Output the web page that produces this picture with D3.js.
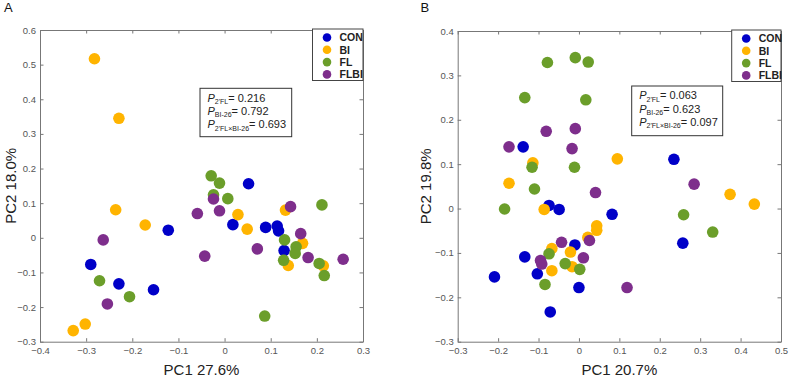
<!DOCTYPE html>
<html>
<head>
<meta charset="utf-8">
<script src="https://cdn.jsdelivr.net/npm/d3@7"></script>
<style>
  body { margin: 0; background: #fff; }
  svg { display: block; font-family: Arial, "Liberation Sans", sans-serif; }
  .axis path, .axis line { stroke: #777; }
  .axis text { fill: #555; font-size: 9.5px; }
</style>
</head>
<body>
<div id="chart"></div>
<script>
// groups and colours
var groups = ["CON", "BI", "FL", "FLBI"];
var colors = ["#0000c8", "#ffb400", "#6b9e2a", "#7e2e8c"];

// panel A  (PC1 27.6%, PC2 18.0%)
var conA  = [[-0.122,0.022],[-0.290,-0.077],[-0.229,-0.133],[-0.154,-0.150],[0.052,0.156],[0.018,0.038],[0.089,0.030],[0.114,0.034],[0.117,0.020],[0.129,-0.037]];
var biA   = [[-0.282,0.517],[-0.229,0.345],[-0.236,0.081],[-0.172,0.037],[-0.302,-0.249],[-0.328,-0.268],[0.029,0.067],[0.049,0.025],[0.132,0.080],[0.169,-0.016],[0.138,-0.080],[0.214,-0.081]];
var flA   = [[-0.271,-0.124],[-0.206,-0.170],[-0.029,0.179],[-0.011,0.158],[-0.024,0.124],[0.007,0.113],[0.211,0.095],[0.130,-0.006],[0.155,-0.026],[0.153,-0.045],[0.128,-0.065],[0.205,-0.074],[0.216,-0.109],[0.087,-0.226]];
var flbiA = [[-0.263,-0.006],[-0.254,-0.191],[-0.059,0.070],[-0.043,-0.053],[-0.024,0.112],[-0.011,0.078],[0.143,0.090],[0.165,0.012],[0.071,-0.032],[0.181,-0.057],[0.257,-0.062]];
var xTicksA = [-0.4,-0.3,-0.2,-0.1,0,0.1,0.2,0.3];
var yTicksA = [-0.3,-0.2,-0.1,0,0.1,0.2,0.3,0.4,0.5,0.6];
var statsA = ["0.216", "0.792", "0.693"];

// panel B  (PC1 20.7%, PC2 19.8%)
var conB  = [[-0.138,0.139],[-0.074,0.007],[-0.049,-0.002],[-0.010,-0.082],[-0.134,-0.109],[-0.103,-0.147],[-0.209,-0.154],[0.000,-0.178],[-0.071,-0.233],[0.235,0.111],[0.082,-0.013],[0.257,-0.078]];
var biB   = [[-0.114,0.103],[-0.173,0.057],[-0.086,-0.002],[0.044,-0.039],[0.044,-0.049],[0.022,-0.065],[-0.067,-0.090],[-0.021,-0.098],[-0.017,-0.131],[-0.067,-0.140],[0.095,0.112],[0.374,0.032],[0.434,0.010]];
var flB   = [[-0.078,0.329],[-0.009,0.340],[0.023,0.330],[-0.134,0.250],[0.017,0.245],[-0.116,0.093],[-0.011,0.093],[-0.110,0.044],[-0.184,-0.001],[-0.074,-0.102],[-0.034,-0.124],[0.002,-0.137],[-0.084,-0.171],[0.259,-0.014],[0.331,-0.053]];
var flbiB = [[-0.081,0.174],[-0.009,0.180],[-0.173,0.139],[-0.017,0.135],[0.041,0.036],[0.026,-0.072],[-0.043,-0.076],[-0.095,-0.117],[-0.092,-0.125],[0.011,-0.111],[0.285,0.055],[0.119,-0.178]];
var xTicksB = [-0.3,-0.2,-0.1,0,0.1,0.2,0.3,0.4,0.5];
var yTicksB = [-0.3,-0.2,-0.1,0,0.1,0.2,0.3,0.4];
var statsB = ["0.063", "0.623", "0.097"];

var statSubs = ["2'FL", "BI-26", "2'FL\u00d7BI-26"];

var W = 789, H = 377;
var svg = d3.select("#chart").append("svg").attr("width", W).attr("height", H);

function fmt(d) { return d === 0 ? "0" : d3.format("")(+d.toFixed(1)); }

function drawPanel(p) {
    var x = d3.scaleLinear().domain(d3.extent(p.xTicks)).range([p.left, p.right]);
    var y = d3.scaleLinear().domain(d3.extent(p.yTicks)).range([p.bottom, p.top]);

    // box axes, ticks pointing inward (matlab style)
    svg.append("g").attr("class", "axis")
        .attr("transform", "translate(0," + p.bottom + ")")
        .call(d3.axisBottom(x).tickValues(p.xTicks).tickFormat(fmt).tickSizeInner(-3.5).tickSizeOuter(0).tickPadding(6));
    svg.append("g").attr("class", "axis")
        .attr("transform", "translate(0," + p.top + ")")
        .call(d3.axisTop(x).tickValues(p.xTicks).tickFormat("").tickSizeInner(-3.5).tickSizeOuter(0));
    svg.append("g").attr("class", "axis")
        .attr("transform", "translate(" + p.left + ",0)")
        .call(d3.axisLeft(y).tickValues(p.yTicks).tickFormat(fmt).tickSizeInner(-3.5).tickSizeOuter(0).tickPadding(4));
    svg.append("g").attr("class", "axis")
        .attr("transform", "translate(" + p.right + ",0)")
        .call(d3.axisRight(y).tickValues(p.yTicks).tickFormat("").tickSizeInner(-3.5).tickSizeOuter(0));

    // points
    p.series.forEach(function (s, i) {
        svg.append("g").selectAll("circle")
            .data(s)
            .enter().append("circle")
            .attr("cx", function (d) { return x(d[0]); })
            .attr("cy", function (d) { return y(d[1]); })
            .attr("r", 5.8)
            .style("fill", colors[i]);
    });

    // axis titles
    svg.append("text")
        .attr("x", (p.left + p.right) / 2).attr("y", 375)
        .attr("text-anchor", "middle")
        .style("font-size", "15px").style("fill", "#222")
        .text(p.xTitle);
    svg.append("text")
        .attr("transform", "translate(" + p.yTitleX + "," + (p.top + p.bottom) / 2 + ") rotate(-90)")
        .attr("text-anchor", "middle")
        .style("font-size", "15px").style("fill", "#222")
        .text(p.yTitle);

    // panel letter
    svg.append("text")
        .attr("x", p.letterX).attr("y", 12)
        .style("font-size", "13px").style("fill", "#111")
        .text(p.letter);

    // legend
    var lg = svg.append("g");
    lg.append("rect")
        .attr("x", p.legX).attr("y", p.top - 1)
        .attr("width", p.right - p.legX).attr("height", 51.5)
        .style("fill", "#fff").style("stroke", "#444").style("stroke-width", 1);
    groups.forEach(function (g, i) {
        var cy = p.top + 7.5 + i * 12.3;
        lg.append("circle").attr("cx", p.legX + 14.5).attr("cy", cy).attr("r", 4.3).style("fill", colors[i]);
        lg.append("text").attr("x", p.legX + 27).attr("y", cy + 3.8)
            .style("font-size", "10.5px").style("font-weight", "bold").style("fill", "#222")
            .text(g);
    });

    // stats box
    var sb = svg.append("g");
    sb.append("rect")
        .attr("x", p.sx).attr("y", p.sy)
        .attr("width", p.sw).attr("height", p.sh)
        .style("fill", "#fff").style("stroke", "#333").style("stroke-width", 1);
    p.stats.forEach(function (v, i) {
        var t = sb.append("text")
            .attr("x", p.sx + 7.5).attr("y", p.sy + 13.2 + i * 13.3)
            .style("font-size", "11px").style("fill", "#222");
        t.append("tspan").style("font-style", "italic").text("P");
        t.append("tspan").attr("dy", 2.5).style("font-size", "7px").text(statSubs[i]);
        t.append("tspan").attr("dy", -2.5).text("= " + v);
    });
}

drawPanel({
    series: [conA, biA, flA, flbiA], xTicks: xTicksA, yTicks: yTicksA, stats: statsA,
    left: 40, right: 363, top: 30, bottom: 341.7,
    xTitle: "PC1 27.6%", yTitle: "PC2 18.0%", yTitleX: 15.5, letter: "A", letterX: 4,
    legX: 312.5, sx: 200, sy: 88.3, sw: 91.7, sh: 48.4
});

drawPanel({
    series: [conB, biB, flB, flbiB], xTicks: xTicksB, yTicks: yTicksB, stats: statsB,
    left: 457.7, right: 781, top: 31, bottom: 341.7,
    xTitle: "PC1 20.7%", yTitle: "PC2 19.8%", yTitleX: 431, letter: "B", letterX: 420.5,
    legX: 731.7, sx: 631.7, sy: 86, sw: 91, sh: 49.7
});
</script>
</body>
</html>
